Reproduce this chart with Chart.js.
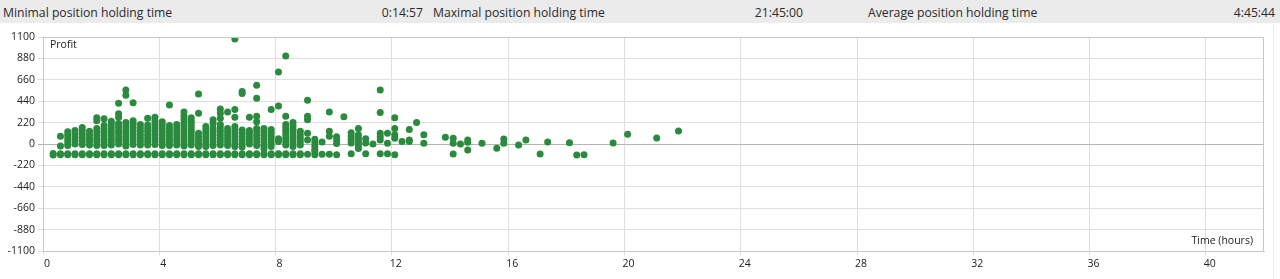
<!DOCTYPE html>
<html>
<head>
<meta charset="utf-8">
<script src="https://cdn.jsdelivr.net/npm/chart.js@4.4.1/dist/chart.umd.min.js"></script>
<style>
  html, body { margin: 0; padding: 0; background: #ffffff; width: 1280px; height: 279px; overflow: hidden; }
  #hdr { position: absolute; left: 0; top: 0; width: 1280px; height: 23px; background: #ebebeb;
         font-family: "Open Sans", "Noto Sans", sans-serif; font-size: 12.2px; color: #2a2a2a; }
  #hdr span { position: absolute; top: 4px; white-space: nowrap; }
  #wrap { position: absolute; left: 0; top: 23px; width: 1280px; height: 256px; }
  #edge { position: absolute; left: 1273px; top: 23px; width: 1px; height: 256px; background: #ececec; }
</style>
</head>
<body>
<div id="hdr"></div>
<div id="wrap"><canvas id="c" width="1280" height="256"></canvas></div>
<div id="edge"></div>
<script>
// ---- header statistics ----
const statLabels = ["Minimal position holding time", "Maximal position holding time", "Average position holding time"];
const statValues = ["0:14:57", "21:45:00", "4:45:44"];

// ---- axis tick labels ----
const yTickLabels = ["1100", "880", "660", "440", "220", "0", "-220", "-440", "-660", "-880", "-1100"];
const xTickLabels = ["0", "4", "8", "12", "16", "20", "24", "28", "32", "36", "40"];

// ---- data: holding time (hours) columns and profits of positions in each ----
const colHours = [0.35, 0.6, 0.85, 1.1, 1.35, 1.6, 1.85, 2.1, 2.35, 2.6, 2.85, 3.1, 3.35, 3.6, 3.85, 4.1, 4.35, 4.6,
  4.85, 5.1, 5.35, 5.6, 5.85, 6.1, 6.35, 6.6, 6.85, 7.1, 7.35, 7.6, 7.85, 8.1, 8.35, 8.6, 8.85, 9.1, 9.35, 9.6,
  9.85, 10.1, 10.35, 10.6, 10.85, 11.1, 11.35, 11.6, 11.85, 12.1, 12.35, 12.6, 12.85, 13.1];
const colProfits = [
  [-98, -112],
  [80, -20, -100, -110],
  [125, 90, 55, 20, -15, -100, -110],
  [140, 105, 70, 35, 0, -100, -110],
  [170, 135, 100, 65, 30, -5, -100, -110],
  [130, 95, 60, 25, -10, -100, -110],
  [270, 240, 160, 125, 90, 55, 20, -15, -100, -110],
  [260, 190, 155, 120, 85, 50, 15, -15, -100, -110],
  [235, 200, 165, 130, 95, 60, 25, -10, -100, -110],
  [420, 310, 275, 210, 175, 140, 105, 70, 35, 0, -100, -110],
  [555, 500, 220, 185, 150, 115, 80, 45, 10, -20, -100, -110],
  [425, 240, 205, 170, 135, 100, 65, 30, -5, -100, -110],
  [200, 165, 130, 95, 60, 25, -10, -100, -110],
  [265, 195, 160, 125, 90, 55, 20, -10, -100, -110],
  [275, 240, 205, 170, 135, 100, 65, 30, -5, -100, -110],
  [230, 195, 160, 125, 90, 55, 20, -15, -100, -110],
  [400, 190, 155, 120, 85, 50, 15, -15, -100, -110],
  [200, 165, 130, 95, 60, 25, -10, -100, -110],
  [330, 290, 255, 220, 185, 150, 115, 80, 45, 10, -20, -100, -110],
  [270, 235, 200, 165, 130, 95, 60, 25, -10, -100, -110],
  [515, 315, 110, 75, 40, 5, -25, -100, -110],
  [180, 145, 110, 75, 40, 5, -25, -100, -110],
  [250, 210, 160, 125, 90, 55, 20, -15, -100, -110],
  [360, 315, 265, 200, 165, 130, 95, 60, 25, -10, -100, -110],
  [330, 160, 125, 90, 55, 20, -15, -100, -110],
  [1080, 355, 275, 180, 145, 110, 75, 40, 5, -25, -100, -110],
  [540, 520, 145, 110, 75, 40, 5, -30, -100, -110],
  [275, 140, 105, 70, 35, 0, -100, -110],
  [605, 470, 285, 230, 160, 125, 90, 55, 20, -15, -100, -110],
  [160, 125, 90, 55, 20, -15, -50, -100, -110],
  [355, 150, 115, 80, 45, 10, -25, -100, -110],
  [740, 390, 55, 25, -100, -110],
  [905, 285, 200, 165, 130, 95, 60, 25, -10, -100, -110],
  [220, 185, 150, 115, 80, 45, 10, -25, -100, -110],
  [130, 95, 60, 25, -10, -100, -110],
  [450, 285, 250, 110, 40, -105],
  [50, 15, -20, -55, -80, -110],
  [20, -105],
  [330, 130, 80, -105],
  [75, 40, 5, -110],
  [280],
  [115, 80, 45, 10, -100],
  [160, 95, 60, 25, -10, -45],
  [55, 10, -100],
  [0],
  [555, 325, 110, 75, 40, -100],
  [110, 7, -100],
  [270, 160, 95, 60, -110],
  [25],
  [150, 40, 25],
  [220],
  [95, 7]
];
const sparseHours   = [13.84, 14.11, 14.11, 14.11, 14.36, 14.61, 14.61, 14.61, 15.10, 15.61, 15.85, 15.85, 16.36, 16.61, 17.10, 17.36, 18.11, 18.36, 18.61, 19.61, 20.11, 21.11, 21.86];
const sparseProfits = [69, 58, 7, -103, 0, 41, 17, -62, 7, -44, 51, 7, -10, 41, -103, 21, 14, -113, -110, 10, 99, 62, 134];

// ---- header ----
const hdr = document.getElementById('hdr');
const labelX = [3, 433, 868];
const valueRight = [423, 803, 1275];
statLabels.forEach((t, i) => {
  const s = document.createElement('span'); s.textContent = t; s.style.left = labelX[i] + 'px'; hdr.appendChild(s);
  const v = document.createElement('span'); v.textContent = statValues[i];
  v.style.right = (1280 - valueRight[i]) + 'px'; hdr.appendChild(v);
});

// ---- build points ----
const points = [];
colHours.forEach((h, i) => colProfits[i].forEach(p => points.push({ x: h, y: p })));
sparseHours.forEach((h, i) => points.push({ x: h, y: sparseProfits[i] }));

const frame = {
  id: 'frame',
  afterDraw(chart) {
    const { ctx, chartArea: a } = chart;
    ctx.save();
    ctx.strokeStyle = '#c6c6c6'; ctx.lineWidth = 1;
    ctx.strokeRect(a.left + 0.5, a.top + 0.5, a.right - a.left - 1, a.bottom - a.top);
    ctx.fillStyle = '#222';
    ctx.font = '10.5px "Open Sans", "Noto Sans", sans-serif';
    ctx.textBaseline = 'middle';
    ctx.textAlign = 'left';
    ctx.fillText('Profit', 50, 22);
    ctx.textAlign = 'right';
    ctx.fillText('Time (hours)', 1253, 218);
    ctx.restore();
  }
};

new Chart(document.getElementById('c'), {
  type: 'scatter',
  data: { datasets: [{ data: points, backgroundColor: '#2a8a3d', borderWidth: 0, pointRadius: 3.5, pointHoverRadius: 3.5 }] },
  options: {
    responsive: false, animation: false,
    layout: { padding: { top: 14, right: 16, left: 0, bottom: 0 } },
    plugins: { legend: { display: false }, tooltip: { enabled: false } },
    scales: {
      x: {
        type: 'linear', min: 0, max: 42,
        afterFit(s) { s.height = 28; },
        ticks: { stepSize: 4, includeBounds: false, autoSkip: false, maxRotation: 0, padding: 3, labelOffset: 4,
                 color: '#222', font: { family: '"Open Sans", "Noto Sans", sans-serif', size: 10.5 },
                 callback: (v) => { const i = xTickLabels.indexOf(String(v)); return i >= 0 ? xTickLabels[i] : ''; } },
        grid: { color: '#dedede', tickLength: 4, drawTicks: true },
        border: { color: '#c6c6c6' }
      },
      y: {
        type: 'linear', min: -1100, max: 1100,
        afterFit(s) { s.width = 43; },
        afterBuildTicks(s) { s.ticks = yTickLabels.map(l => ({ value: Number(l) })).reverse(); },
        ticks: { autoSkip: false, padding: 3, color: '#222', font: { family: '"Open Sans", "Noto Sans", sans-serif', size: 10.5 },
                 callback: (v) => { const i = yTickLabels.indexOf(String(v)); return i >= 0 ? yTickLabels[i] : ''; } },
        grid: { color: (c) => (c.tick && c.tick.value === 0 ? '#b4b4b4' : '#e0e0e0'), tickLength: 5, drawTicks: true },
        border: { color: '#c6c6c6' }
      }
    }
  },
  plugins: [frame]
});
</script>
</body>
</html>
